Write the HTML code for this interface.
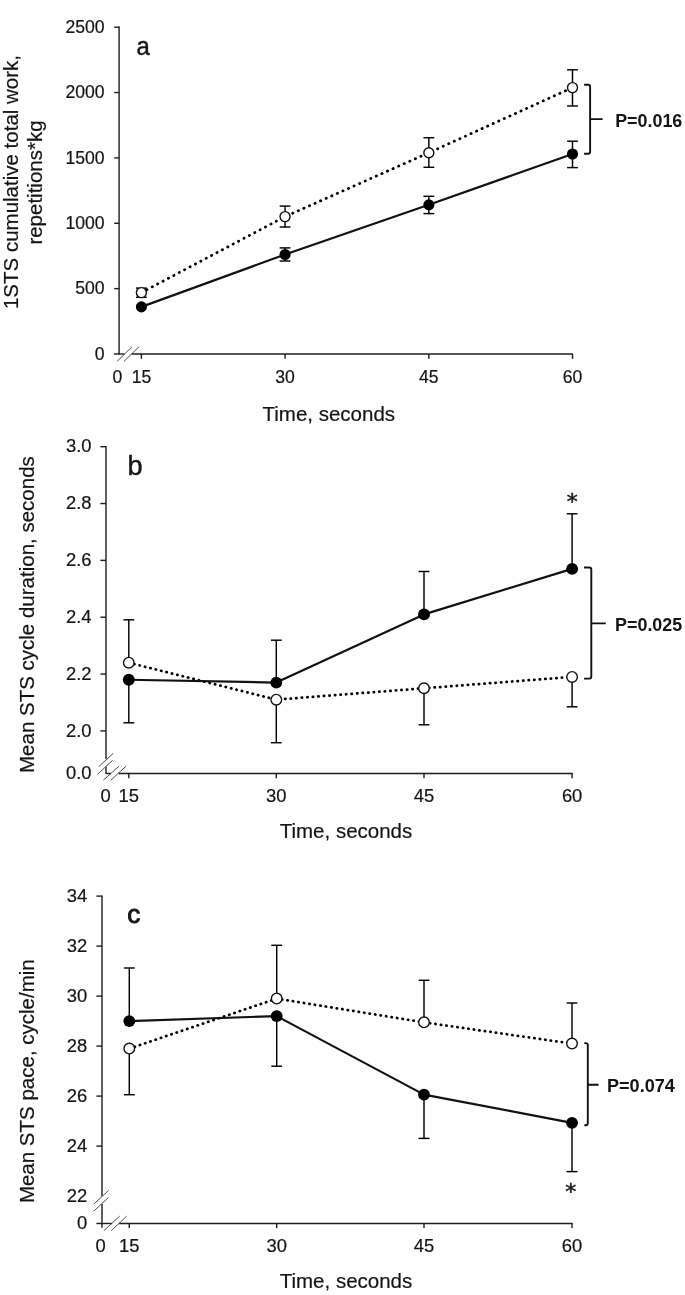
<!DOCTYPE html>
<html lang="en">
<head>
<meta charset="utf-8">
<title>STS figure</title>
<style>
html,body{margin:0;padding:0;background:#fff;}
body{width:685px;height:1295px;overflow:hidden;}
svg{display:block;font-family:"Liberation Sans", Arial, sans-serif;filter:blur(0.3px);}
</style>
</head>
<body>
<svg width="685" height="1295" viewBox="0 0 685 1295">
<rect width="685" height="1295" fill="#ffffff"/>
<rect x="61" y="0" width="536" height="398" fill="#fefefe"/>
<rect x="61" y="432" width="536" height="424" fill="#fefefe"/>
<rect x="61" y="880" width="536" height="384" fill="#fefefe"/>
<line x1="119.10" y1="26.60" x2="119.10" y2="354.60" stroke="#1c1c1c" stroke-width="1.4" />
<line x1="119.10" y1="354.00" x2="124.50" y2="354.00" stroke="#1c1c1c" stroke-width="1.4" />
<line x1="131.50" y1="354.00" x2="572.90" y2="354.00" stroke="#1c1c1c" stroke-width="1.4" />
<line x1="113.90" y1="354.00" x2="119.10" y2="354.00" stroke="#1c1c1c" stroke-width="1.4" />
<line x1="114.20" y1="288.64" x2="119.10" y2="288.64" stroke="#1c1c1c" stroke-width="1.4" />
<line x1="114.20" y1="223.28" x2="119.10" y2="223.28" stroke="#1c1c1c" stroke-width="1.4" />
<line x1="114.20" y1="157.92" x2="119.10" y2="157.92" stroke="#1c1c1c" stroke-width="1.4" />
<line x1="114.20" y1="92.56" x2="119.10" y2="92.56" stroke="#1c1c1c" stroke-width="1.4" />
<line x1="114.20" y1="27.20" x2="119.10" y2="27.20" stroke="#1c1c1c" stroke-width="1.4" />
<text transform="translate(104.50,359.70) scale(1.005,1)" font-size="17.5" text-anchor="end" fill="#141414" stroke="#141414" stroke-width="0.2">0</text>
<text transform="translate(104.50,294.34) scale(1.005,1)" font-size="17.5" text-anchor="end" fill="#141414" stroke="#141414" stroke-width="0.2">500</text>
<text transform="translate(104.50,228.98) scale(1.005,1)" font-size="17.5" text-anchor="end" fill="#141414" stroke="#141414" stroke-width="0.2">1000</text>
<text transform="translate(104.50,163.62) scale(1.005,1)" font-size="17.5" text-anchor="end" fill="#141414" stroke="#141414" stroke-width="0.2">1500</text>
<text transform="translate(104.50,98.26) scale(1.005,1)" font-size="17.5" text-anchor="end" fill="#141414" stroke="#141414" stroke-width="0.2">2000</text>
<text transform="translate(104.50,32.90) scale(1.005,1)" font-size="17.5" text-anchor="end" fill="#141414" stroke="#141414" stroke-width="0.2">2500</text>
<line x1="141.40" y1="354.00" x2="141.40" y2="358.80" stroke="#1c1c1c" stroke-width="1.4" />
<text transform="translate(141.40,383.30) scale(1.005,1)" font-size="17.5" text-anchor="middle" fill="#141414" stroke="#141414" stroke-width="0.2">15</text>
<line x1="285.05" y1="354.00" x2="285.05" y2="358.80" stroke="#1c1c1c" stroke-width="1.4" />
<text transform="translate(285.05,383.30) scale(1.005,1)" font-size="17.5" text-anchor="middle" fill="#141414" stroke="#141414" stroke-width="0.2">30</text>
<line x1="428.85" y1="354.00" x2="428.85" y2="358.80" stroke="#1c1c1c" stroke-width="1.4" />
<text transform="translate(428.85,383.30) scale(1.005,1)" font-size="17.5" text-anchor="middle" fill="#141414" stroke="#141414" stroke-width="0.2">45</text>
<line x1="572.50" y1="354.00" x2="572.50" y2="358.80" stroke="#1c1c1c" stroke-width="1.4" />
<text transform="translate(572.50,383.30) scale(1.005,1)" font-size="17.5" text-anchor="middle" fill="#141414" stroke="#141414" stroke-width="0.2">60</text>
<text transform="translate(117.40,383.30) scale(1.005,1)" font-size="17.5" text-anchor="middle" fill="#141414" stroke="#141414" stroke-width="0.2">0</text>
<line x1="117.10" y1="361.40" x2="132.00" y2="346.80" stroke="#444" stroke-width="0.95" />
<line x1="123.90" y1="361.40" x2="139.00" y2="346.80" stroke="#444" stroke-width="0.95" />
<text x="328.80" y="421.00" font-size="20.5" text-anchor="middle" font-weight="normal" fill="#141414" stroke="#141414" stroke-width="0.2" >Time, seconds</text>
<text transform="translate(17.60,182.00) rotate(-90)" font-size="20.5" text-anchor="middle" fill="#141414" stroke="#141414" stroke-width="0.2" >1STS cumulative total work,</text>
<text transform="translate(41.70,182.50) rotate(-90)" font-size="20.5" text-anchor="middle" fill="#141414" stroke="#141414" stroke-width="0.2" >repetitions*kg</text>
<text transform="translate(136.6,54.6) scale(0.92,1)" font-size="26" fill="#141414" stroke="#141414" stroke-width="0.45">a</text>
<polyline points="141.40,292.60 285.05,216.60 428.85,152.70 572.50,87.60" fill="none" stroke="#000" stroke-width="2.75" stroke-linecap="round" stroke-dasharray="0.3 5.8"/>
<polyline points="141.40,306.90 285.05,254.50 428.85,204.80 572.50,154.00" fill="none" stroke="#111" stroke-width="2.2" stroke-linejoin="round"/>
<line x1="141.40" y1="292.60" x2="141.40" y2="288.10" stroke="#000" stroke-width="1.45" />
<line x1="136.00" y1="288.10" x2="146.80" y2="288.10" stroke="#000" stroke-width="1.45" />
<line x1="141.40" y1="292.60" x2="141.40" y2="297.30" stroke="#000" stroke-width="1.45" />
<line x1="136.00" y1="297.30" x2="146.80" y2="297.30" stroke="#000" stroke-width="1.45" />
<line x1="285.05" y1="216.60" x2="285.05" y2="206.10" stroke="#000" stroke-width="1.45" />
<line x1="279.65" y1="206.10" x2="290.45" y2="206.10" stroke="#000" stroke-width="1.45" />
<line x1="285.05" y1="216.60" x2="285.05" y2="227.00" stroke="#000" stroke-width="1.45" />
<line x1="279.65" y1="227.00" x2="290.45" y2="227.00" stroke="#000" stroke-width="1.45" />
<line x1="428.85" y1="152.70" x2="428.85" y2="137.70" stroke="#000" stroke-width="1.45" />
<line x1="423.45" y1="137.70" x2="434.25" y2="137.70" stroke="#000" stroke-width="1.45" />
<line x1="428.85" y1="152.70" x2="428.85" y2="167.30" stroke="#000" stroke-width="1.45" />
<line x1="423.45" y1="167.30" x2="434.25" y2="167.30" stroke="#000" stroke-width="1.45" />
<line x1="572.50" y1="87.60" x2="572.50" y2="69.80" stroke="#000" stroke-width="1.45" />
<line x1="567.10" y1="69.80" x2="577.90" y2="69.80" stroke="#000" stroke-width="1.45" />
<line x1="572.50" y1="87.60" x2="572.50" y2="106.00" stroke="#000" stroke-width="1.45" />
<line x1="567.10" y1="106.00" x2="577.90" y2="106.00" stroke="#000" stroke-width="1.45" />
<line x1="285.05" y1="254.50" x2="285.05" y2="247.90" stroke="#000" stroke-width="1.45" />
<line x1="279.65" y1="247.90" x2="290.45" y2="247.90" stroke="#000" stroke-width="1.45" />
<line x1="285.05" y1="254.50" x2="285.05" y2="261.00" stroke="#000" stroke-width="1.45" />
<line x1="279.65" y1="261.00" x2="290.45" y2="261.00" stroke="#000" stroke-width="1.45" />
<line x1="428.85" y1="204.80" x2="428.85" y2="196.30" stroke="#000" stroke-width="1.45" />
<line x1="423.45" y1="196.30" x2="434.25" y2="196.30" stroke="#000" stroke-width="1.45" />
<line x1="428.85" y1="204.80" x2="428.85" y2="213.60" stroke="#000" stroke-width="1.45" />
<line x1="423.45" y1="213.60" x2="434.25" y2="213.60" stroke="#000" stroke-width="1.45" />
<line x1="572.50" y1="154.00" x2="572.50" y2="141.20" stroke="#000" stroke-width="1.45" />
<line x1="567.10" y1="141.20" x2="577.90" y2="141.20" stroke="#000" stroke-width="1.45" />
<line x1="572.50" y1="154.00" x2="572.50" y2="167.60" stroke="#000" stroke-width="1.45" />
<line x1="567.10" y1="167.60" x2="577.90" y2="167.60" stroke="#000" stroke-width="1.45" />
<circle cx="141.40" cy="292.60" r="5.0" fill="#fff" stroke="#111" stroke-width="1.4"/>
<circle cx="285.05" cy="216.60" r="5.0" fill="#fff" stroke="#111" stroke-width="1.4"/>
<circle cx="428.85" cy="152.70" r="5.0" fill="#fff" stroke="#111" stroke-width="1.4"/>
<circle cx="572.50" cy="87.60" r="5.0" fill="#fff" stroke="#111" stroke-width="1.4"/>
<circle cx="141.40" cy="306.90" r="5.55" fill="#000"/>
<circle cx="285.05" cy="254.50" r="5.55" fill="#000"/>
<circle cx="428.85" cy="204.80" r="5.55" fill="#000"/>
<circle cx="572.50" cy="154.00" r="5.55" fill="#000"/>
<path d="M584.10,84.80 H588.10 Q590.10,84.80 590.10,86.80 V151.70 Q590.10,153.70 588.10,153.70 H584.10 M590.10,119.10 H602.60" fill="none" stroke="#111" stroke-width="1.9"/>
<text x="615.20" y="126.80" font-size="18" text-anchor="start" font-weight="bold" fill="#141414" stroke="#141414" stroke-width="0" textLength="67.1" lengthAdjust="spacingAndGlyphs">P=0.016</text>
<line x1="106.00" y1="446.10" x2="106.00" y2="759.10" stroke="#1c1c1c" stroke-width="1.4" />
<line x1="106.00" y1="766.70" x2="106.00" y2="774.10" stroke="#1c1c1c" stroke-width="1.4" />
<line x1="106.00" y1="773.50" x2="111.00" y2="773.50" stroke="#1c1c1c" stroke-width="1.4" />
<line x1="118.50" y1="773.50" x2="572.70" y2="773.50" stroke="#1c1c1c" stroke-width="1.4" />
<line x1="100.40" y1="730.90" x2="106.00" y2="730.90" stroke="#1c1c1c" stroke-width="1.4" />
<text transform="translate(91.50,736.60) scale(1.05,1)" font-size="17.5" text-anchor="end" fill="#141414" stroke="#141414" stroke-width="0.2">2.0</text>
<line x1="100.40" y1="674.06" x2="106.00" y2="674.06" stroke="#1c1c1c" stroke-width="1.4" />
<text transform="translate(91.50,679.76) scale(1.05,1)" font-size="17.5" text-anchor="end" fill="#141414" stroke="#141414" stroke-width="0.2">2.2</text>
<line x1="100.40" y1="617.22" x2="106.00" y2="617.22" stroke="#1c1c1c" stroke-width="1.4" />
<text transform="translate(91.50,622.92) scale(1.05,1)" font-size="17.5" text-anchor="end" fill="#141414" stroke="#141414" stroke-width="0.2">2.4</text>
<line x1="100.40" y1="560.38" x2="106.00" y2="560.38" stroke="#1c1c1c" stroke-width="1.4" />
<text transform="translate(91.50,566.08) scale(1.05,1)" font-size="17.5" text-anchor="end" fill="#141414" stroke="#141414" stroke-width="0.2">2.6</text>
<line x1="100.40" y1="503.54" x2="106.00" y2="503.54" stroke="#1c1c1c" stroke-width="1.4" />
<text transform="translate(91.50,509.24) scale(1.05,1)" font-size="17.5" text-anchor="end" fill="#141414" stroke="#141414" stroke-width="0.2">2.8</text>
<line x1="100.40" y1="446.70" x2="106.00" y2="446.70" stroke="#1c1c1c" stroke-width="1.4" />
<text transform="translate(91.50,452.40) scale(1.05,1)" font-size="17.5" text-anchor="end" fill="#141414" stroke="#141414" stroke-width="0.2">3.0</text>
<text transform="translate(91.50,778.70) scale(1.05,1)" font-size="17.5" text-anchor="end" fill="#141414" stroke="#141414" stroke-width="0.2">0.0</text>
<line x1="128.80" y1="773.50" x2="128.80" y2="778.30" stroke="#1c1c1c" stroke-width="1.4" />
<text transform="translate(128.80,801.50) scale(1.05,1)" font-size="17.5" text-anchor="middle" fill="#141414" stroke="#141414" stroke-width="0.2">15</text>
<line x1="276.30" y1="773.50" x2="276.30" y2="778.30" stroke="#1c1c1c" stroke-width="1.4" />
<text transform="translate(276.30,801.50) scale(1.05,1)" font-size="17.5" text-anchor="middle" fill="#141414" stroke="#141414" stroke-width="0.2">30</text>
<line x1="424.00" y1="773.50" x2="424.00" y2="778.30" stroke="#1c1c1c" stroke-width="1.4" />
<text transform="translate(424.00,801.50) scale(1.05,1)" font-size="17.5" text-anchor="middle" fill="#141414" stroke="#141414" stroke-width="0.2">45</text>
<line x1="572.10" y1="773.50" x2="572.10" y2="778.30" stroke="#1c1c1c" stroke-width="1.4" />
<text transform="translate(572.10,801.50) scale(1.05,1)" font-size="17.5" text-anchor="middle" fill="#141414" stroke="#141414" stroke-width="0.2">60</text>
<text transform="translate(105.50,801.50) scale(1.05,1)" font-size="17.5" text-anchor="middle" fill="#141414" stroke="#141414" stroke-width="0.2">0</text>
<line x1="98.70" y1="766.70" x2="113.30" y2="753.30" stroke="#444" stroke-width="0.95" />
<line x1="97.50" y1="774.30" x2="112.70" y2="760.30" stroke="#444" stroke-width="0.95" />
<line x1="103.40" y1="780.10" x2="119.10" y2="766.10" stroke="#444" stroke-width="0.95" />
<line x1="111.00" y1="780.10" x2="126.10" y2="766.10" stroke="#444" stroke-width="0.95" />
<text x="346.00" y="838.20" font-size="20.5" text-anchor="middle" font-weight="normal" fill="#141414" stroke="#141414" stroke-width="0.2" >Time, seconds</text>
<text transform="translate(33.70,614.60) rotate(-90)" font-size="20.5" text-anchor="middle" fill="#141414" stroke="#141414" stroke-width="0.2" >Mean STS cycle duration, seconds</text>
<text transform="translate(127.5,474.9) scale(0.97,1)" font-size="28" fill="#141414" stroke="#141414" stroke-width="0.45">b</text>
<polyline points="128.80,662.69 276.30,699.64 424.00,688.27 572.10,676.90" fill="none" stroke="#000" stroke-width="2.75" stroke-linecap="round" stroke-dasharray="0.3 5.25"/>
<polyline points="128.80,679.74 276.30,682.59 424.00,614.38 572.10,568.91" fill="none" stroke="#111" stroke-width="2.2" stroke-linejoin="round"/>
<line x1="128.80" y1="662.69" x2="128.80" y2="619.80" stroke="#000" stroke-width="1.45" />
<line x1="123.40" y1="619.80" x2="134.20" y2="619.80" stroke="#000" stroke-width="1.45" />
<line x1="128.80" y1="679.74" x2="128.80" y2="722.80" stroke="#000" stroke-width="1.45" />
<line x1="123.40" y1="722.80" x2="134.20" y2="722.80" stroke="#000" stroke-width="1.45" />
<line x1="276.30" y1="682.59" x2="276.30" y2="640.20" stroke="#000" stroke-width="1.45" />
<line x1="270.90" y1="640.20" x2="281.70" y2="640.20" stroke="#000" stroke-width="1.45" />
<line x1="276.30" y1="699.64" x2="276.30" y2="742.70" stroke="#000" stroke-width="1.45" />
<line x1="270.90" y1="742.70" x2="281.70" y2="742.70" stroke="#000" stroke-width="1.45" />
<line x1="424.00" y1="614.38" x2="424.00" y2="571.50" stroke="#000" stroke-width="1.45" />
<line x1="418.60" y1="571.50" x2="429.40" y2="571.50" stroke="#000" stroke-width="1.45" />
<line x1="424.00" y1="688.27" x2="424.00" y2="724.80" stroke="#000" stroke-width="1.45" />
<line x1="418.60" y1="724.80" x2="429.40" y2="724.80" stroke="#000" stroke-width="1.45" />
<line x1="572.10" y1="568.91" x2="572.10" y2="513.80" stroke="#000" stroke-width="1.45" />
<line x1="566.70" y1="513.80" x2="577.50" y2="513.80" stroke="#000" stroke-width="1.45" />
<line x1="572.10" y1="676.90" x2="572.10" y2="706.80" stroke="#000" stroke-width="1.45" />
<line x1="566.70" y1="706.80" x2="577.50" y2="706.80" stroke="#000" stroke-width="1.45" />
<circle cx="128.80" cy="679.74" r="5.95" fill="#000"/>
<circle cx="276.30" cy="682.59" r="5.95" fill="#000"/>
<circle cx="424.00" cy="614.38" r="5.95" fill="#000"/>
<circle cx="572.10" cy="568.91" r="5.95" fill="#000"/>
<circle cx="128.80" cy="662.69" r="5.3" fill="#fff" stroke="#111" stroke-width="1.4"/>
<circle cx="276.30" cy="699.64" r="5.3" fill="#fff" stroke="#111" stroke-width="1.4"/>
<circle cx="424.00" cy="688.27" r="5.3" fill="#fff" stroke="#111" stroke-width="1.4"/>
<circle cx="572.10" cy="676.90" r="5.3" fill="#fff" stroke="#111" stroke-width="1.4"/>
<path d="M584.00,567.50 H589.30 Q591.30,567.50 591.30,569.50 V676.60 Q591.30,678.60 589.30,678.60 H584.00 M591.30,623.40 H605.80" fill="none" stroke="#111" stroke-width="1.9"/>
<text x="615.10" y="631.00" font-size="18" text-anchor="start" font-weight="bold" fill="#141414" stroke="#141414" stroke-width="0" textLength="67.1" lengthAdjust="spacingAndGlyphs">P=0.025</text>
<text x="572.2" y="508.7" font-size="22" text-anchor="middle" fill="#141414" stroke="#141414" stroke-width="0.5" font-family="DejaVu Sans, sans-serif">*</text>
<line x1="102.00" y1="895.50" x2="102.00" y2="1196.30" stroke="#1c1c1c" stroke-width="1.4" />
<line x1="102.00" y1="1203.90" x2="102.00" y2="1227.80" stroke="#1c1c1c" stroke-width="1.4" />
<line x1="96.40" y1="1223.50" x2="112.10" y2="1223.50" stroke="#1c1c1c" stroke-width="1.4" />
<line x1="119.10" y1="1223.50" x2="572.60" y2="1223.50" stroke="#1c1c1c" stroke-width="1.4" />
<line x1="96.40" y1="1146.10" x2="102.00" y2="1146.10" stroke="#1c1c1c" stroke-width="1.4" />
<line x1="96.40" y1="1096.10" x2="102.00" y2="1096.10" stroke="#1c1c1c" stroke-width="1.4" />
<line x1="96.40" y1="1046.10" x2="102.00" y2="1046.10" stroke="#1c1c1c" stroke-width="1.4" />
<line x1="96.40" y1="996.10" x2="102.00" y2="996.10" stroke="#1c1c1c" stroke-width="1.4" />
<line x1="96.40" y1="946.10" x2="102.00" y2="946.10" stroke="#1c1c1c" stroke-width="1.4" />
<line x1="96.40" y1="896.10" x2="102.00" y2="896.10" stroke="#1c1c1c" stroke-width="1.4" />
<text transform="translate(87.30,1201.80) scale(1.05,1)" font-size="17.5" text-anchor="end" fill="#141414" stroke="#141414" stroke-width="0.2">22</text>
<text transform="translate(87.30,1151.80) scale(1.05,1)" font-size="17.5" text-anchor="end" fill="#141414" stroke="#141414" stroke-width="0.2">24</text>
<text transform="translate(87.30,1101.80) scale(1.05,1)" font-size="17.5" text-anchor="end" fill="#141414" stroke="#141414" stroke-width="0.2">26</text>
<text transform="translate(87.30,1051.80) scale(1.05,1)" font-size="17.5" text-anchor="end" fill="#141414" stroke="#141414" stroke-width="0.2">28</text>
<text transform="translate(87.30,1001.80) scale(1.05,1)" font-size="17.5" text-anchor="end" fill="#141414" stroke="#141414" stroke-width="0.2">30</text>
<text transform="translate(87.30,951.80) scale(1.05,1)" font-size="17.5" text-anchor="end" fill="#141414" stroke="#141414" stroke-width="0.2">32</text>
<text transform="translate(87.30,901.80) scale(1.05,1)" font-size="17.5" text-anchor="end" fill="#141414" stroke="#141414" stroke-width="0.2">34</text>
<text transform="translate(87.30,1228.90) scale(1.05,1)" font-size="17.5" text-anchor="end" fill="#141414" stroke="#141414" stroke-width="0.2">0</text>
<line x1="129.30" y1="1223.50" x2="129.30" y2="1228.10" stroke="#1c1c1c" stroke-width="1.4" />
<text transform="translate(129.30,1252.30) scale(1.05,1)" font-size="17.5" text-anchor="middle" fill="#141414" stroke="#141414" stroke-width="0.2">15</text>
<line x1="276.70" y1="1223.50" x2="276.70" y2="1228.10" stroke="#1c1c1c" stroke-width="1.4" />
<text transform="translate(276.70,1252.30) scale(1.05,1)" font-size="17.5" text-anchor="middle" fill="#141414" stroke="#141414" stroke-width="0.2">30</text>
<line x1="424.00" y1="1223.50" x2="424.00" y2="1228.10" stroke="#1c1c1c" stroke-width="1.4" />
<text transform="translate(424.00,1252.30) scale(1.05,1)" font-size="17.5" text-anchor="middle" fill="#141414" stroke="#141414" stroke-width="0.2">45</text>
<line x1="572.00" y1="1223.50" x2="572.00" y2="1228.10" stroke="#1c1c1c" stroke-width="1.4" />
<text transform="translate(572.00,1252.30) scale(1.05,1)" font-size="17.5" text-anchor="middle" fill="#141414" stroke="#141414" stroke-width="0.2">60</text>
<text transform="translate(100.70,1252.30) scale(1.05,1)" font-size="17.5" text-anchor="middle" fill="#141414" stroke="#141414" stroke-width="0.2">0</text>
<line x1="94.00" y1="1203.90" x2="108.60" y2="1190.40" stroke="#444" stroke-width="0.95" />
<line x1="94.00" y1="1210.90" x2="108.60" y2="1197.40" stroke="#444" stroke-width="0.95" />
<line x1="103.90" y1="1230.70" x2="119.70" y2="1216.10" stroke="#444" stroke-width="0.95" />
<line x1="111.30" y1="1230.70" x2="126.70" y2="1216.10" stroke="#444" stroke-width="0.95" />
<text x="346.00" y="1288.40" font-size="20.5" text-anchor="middle" font-weight="normal" fill="#141414" stroke="#141414" stroke-width="0.2" >Time, seconds</text>
<text transform="translate(34.10,1081.20) rotate(-90)" font-size="20.5" text-anchor="middle" fill="#141414" stroke="#141414" stroke-width="0.2" >Mean STS pace, cycle/min</text>
<text transform="translate(127.2,923.2) scale(1.0,1)" font-size="26" fill="#141414" stroke="#141414" stroke-width="0.9">c</text>
<polyline points="129.30,1048.60 276.70,998.60 424.00,1022.35 572.00,1043.60" fill="none" stroke="#000" stroke-width="2.75" stroke-linecap="round" stroke-dasharray="0.3 5.25"/>
<polyline points="129.30,1021.10 276.70,1016.10 424.00,1094.60 572.00,1122.85" fill="none" stroke="#111" stroke-width="2.2" stroke-linejoin="round"/>
<line x1="129.30" y1="1021.10" x2="129.30" y2="968.00" stroke="#000" stroke-width="1.45" />
<line x1="123.90" y1="968.00" x2="134.70" y2="968.00" stroke="#000" stroke-width="1.45" />
<line x1="129.30" y1="1048.60" x2="129.30" y2="1094.70" stroke="#000" stroke-width="1.45" />
<line x1="123.90" y1="1094.70" x2="134.70" y2="1094.70" stroke="#000" stroke-width="1.45" />
<line x1="276.70" y1="998.60" x2="276.70" y2="945.30" stroke="#000" stroke-width="1.45" />
<line x1="271.30" y1="945.30" x2="282.10" y2="945.30" stroke="#000" stroke-width="1.45" />
<line x1="276.70" y1="1016.10" x2="276.70" y2="1066.20" stroke="#000" stroke-width="1.45" />
<line x1="271.30" y1="1066.20" x2="282.10" y2="1066.20" stroke="#000" stroke-width="1.45" />
<line x1="424.00" y1="1022.35" x2="424.00" y2="980.30" stroke="#000" stroke-width="1.45" />
<line x1="418.60" y1="980.30" x2="429.40" y2="980.30" stroke="#000" stroke-width="1.45" />
<line x1="424.00" y1="1094.60" x2="424.00" y2="1138.40" stroke="#000" stroke-width="1.45" />
<line x1="418.60" y1="1138.40" x2="429.40" y2="1138.40" stroke="#000" stroke-width="1.45" />
<line x1="572.00" y1="1043.60" x2="572.00" y2="1003.00" stroke="#000" stroke-width="1.45" />
<line x1="566.60" y1="1003.00" x2="577.40" y2="1003.00" stroke="#000" stroke-width="1.45" />
<line x1="572.00" y1="1122.85" x2="572.00" y2="1171.60" stroke="#000" stroke-width="1.45" />
<line x1="566.60" y1="1171.60" x2="577.40" y2="1171.60" stroke="#000" stroke-width="1.45" />
<circle cx="129.30" cy="1021.10" r="5.95" fill="#000"/>
<circle cx="276.70" cy="1016.10" r="5.95" fill="#000"/>
<circle cx="424.00" cy="1094.60" r="5.95" fill="#000"/>
<circle cx="572.00" cy="1122.85" r="5.95" fill="#000"/>
<circle cx="129.30" cy="1048.60" r="5.3" fill="#fff" stroke="#111" stroke-width="1.4"/>
<circle cx="276.70" cy="998.60" r="5.3" fill="#fff" stroke="#111" stroke-width="1.4"/>
<circle cx="424.00" cy="1022.35" r="5.3" fill="#fff" stroke="#111" stroke-width="1.4"/>
<circle cx="572.00" cy="1043.60" r="5.3" fill="#fff" stroke="#111" stroke-width="1.4"/>
<path d="M584.30,1043.10 H585.80 Q587.80,1043.10 587.80,1045.10 V1123.20 Q587.80,1125.20 585.80,1125.20 H584.30 M587.80,1084.70 H598.60" fill="none" stroke="#111" stroke-width="1.9"/>
<text x="607.00" y="1091.60" font-size="18" text-anchor="start" font-weight="bold" fill="#141414" stroke="#141414" stroke-width="0" textLength="67.8" lengthAdjust="spacingAndGlyphs">P=0.074</text>
<text x="570.8" y="1198.5" font-size="22" text-anchor="middle" fill="#141414" stroke="#141414" stroke-width="0.5" font-family="DejaVu Sans, sans-serif">*</text>
</svg>
</body>
</html>
